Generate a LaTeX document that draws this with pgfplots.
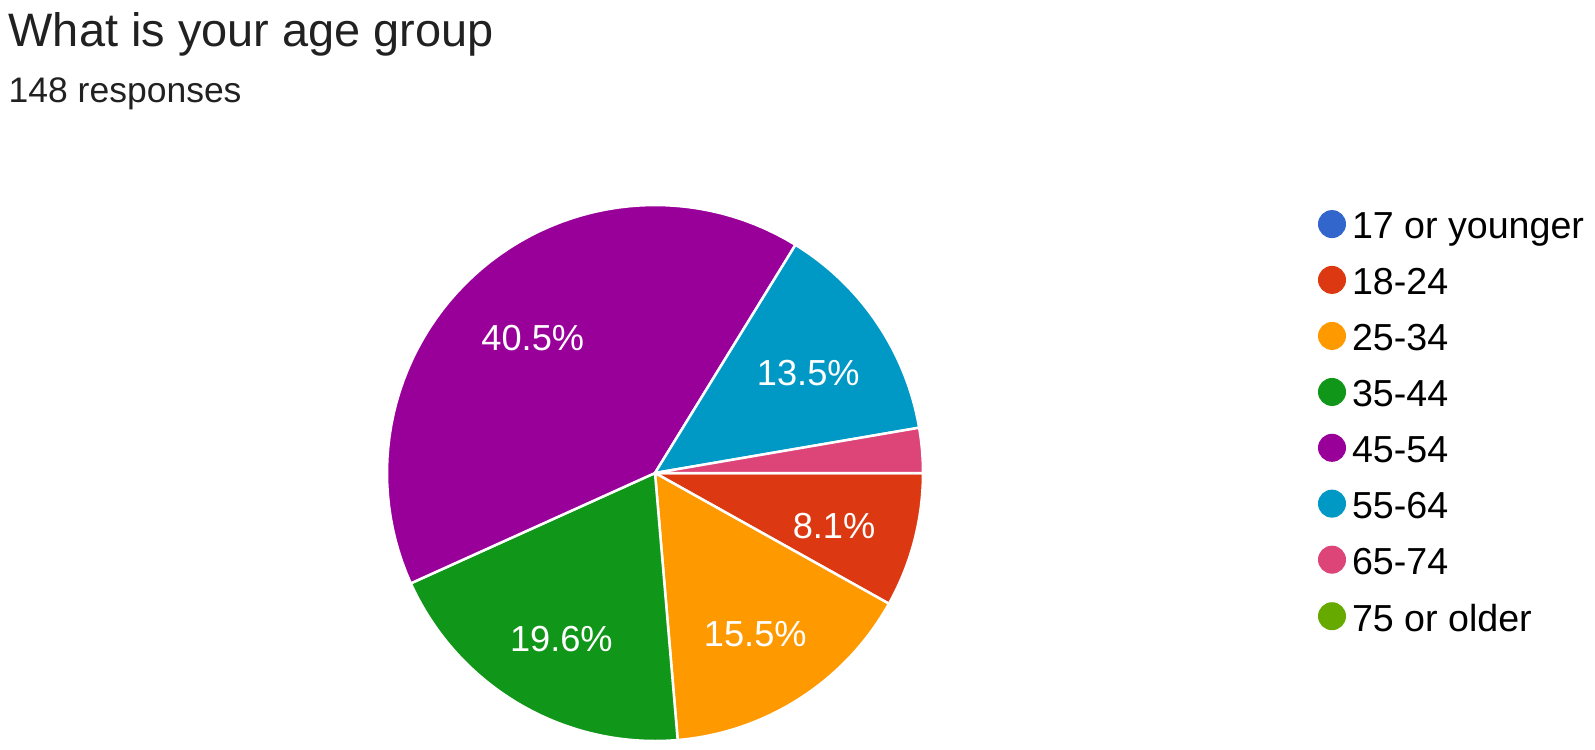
\documentclass[border=0pt]{standalone}
\usepackage{pgfplots}
\pgfplotsset{compat=1.18}
\usepackage{fontspec}
\setmainfont{Liberation Sans}
\definecolor{c17}{HTML}{3366CC}
\definecolor{c18}{HTML}{DC3912}
\definecolor{c25}{HTML}{FF9900}
\definecolor{c35}{HTML}{109618}
\definecolor{c45}{HTML}{990099}
\definecolor{c55}{HTML}{0099C6}
\definecolor{c65}{HTML}{DD4477}
\definecolor{c75}{HTML}{66AA00}
% counts of 148 responses: 17-:0, 18-24:12, 25-34:23, 35-44:29, 45-54:60, 55-64:20, 65-74:4, 75+:0
% slices start at 3 o'clock and run clockwise; angle = count/148*360
\begin{document}
\begin{tikzpicture}
\begin{axis}[
  width=15.95cm, height=7.49cm, scale only axis,
  xmin=0, xmax=1595, ymin=0, ymax=749,
  hide axis, clip=false,
  legend style={at={(axis cs:1318,542)}, anchor=north west, draw=none, fill=none,
    inner sep=0pt, outer sep=0pt,
    font=\fontsize{10.7pt}{12pt}\selectfont, row sep=1.25mm,
    nodes={inner sep=0.6mm}},
  legend cell align=left,
  legend image code/.code={\fill[#1, draw=none] (1.0mm,0.45mm) circle (1.4mm);},
  wedge/.style={draw=white, line width=0.25mm, samples=60, line join=round},
]
\path (axis cs:0,0) rectangle (axis cs:1595,749);
\addlegendimage{fill=c17}\addlegendentry{17 or younger}
\addplot[wedge, fill=c18, domain=-29.19:0] ({655+268*cos(x)},{276+268*sin(x)}) -- (axis cs:655,276) -- cycle;
\addlegendentry{18-24}
\addplot[wedge, fill=c25, domain=-85.14:-29.19] ({655+268*cos(x)},{276+268*sin(x)}) -- (axis cs:655,276) -- cycle;
\addlegendentry{25-34}
\addplot[wedge, fill=c35, domain=-155.68:-85.14] ({655+268*cos(x)},{276+268*sin(x)}) -- (axis cs:655,276) -- cycle;
\addlegendentry{35-44}
\addplot[wedge, fill=c45, domain=-301.62:-155.68] ({655+268*cos(x)},{276+268*sin(x)}) -- (axis cs:655,276) -- cycle;
\addlegendentry{45-54}
\addplot[wedge, fill=c55, domain=-350.27:-301.62] ({655+268*cos(x)},{276+268*sin(x)}) -- (axis cs:655,276) -- cycle;
\addlegendentry{55-64}
\addplot[wedge, fill=c65, domain=-360:-350.27] ({655+268*cos(x)},{276+268*sin(x)}) -- (axis cs:655,276) -- cycle;
\addlegendentry{65-74}
\addlegendimage{fill=c75}\addlegendentry{75 or older}
% percentage labels at mid-angles, 0.69 R
\begin{scope}[every node/.style={text=white, font=\fontsize{10.3pt}{12pt}\selectfont}]
\node at (axis cs:{655+185*cos(-14.6)},{270+185*sin(-14.6)}) {8.1\%};
\node at (axis cs:{655+185*cos(-57.17)},{270+185*sin(-57.17)}) {15.5\%};
\node at (axis cs:{655+185*cos(-120.41)},{270+185*sin(-120.41)}) {19.6\%};
\node at (axis cs:{655+185*cos(-228.65)},{272+185*sin(-228.65)}) {40.5\%};
\node at (axis cs:{655+185*cos(-325.95)},{272+185*sin(-325.95)}) {13.5\%};
\end{scope}
\node[anchor=base west, inner sep=0pt, font=\fontsize{13.35pt}{15pt}\selectfont, text=black!87] at (axis cs:8,703) {What is your age group};
\node[anchor=base west, inner sep=0pt, font=\fontsize{10.1pt}{12pt}\selectfont, text=black!87] at (axis cs:8,647) {148 responses};
\end{axis}
\end{tikzpicture}
\end{document}
